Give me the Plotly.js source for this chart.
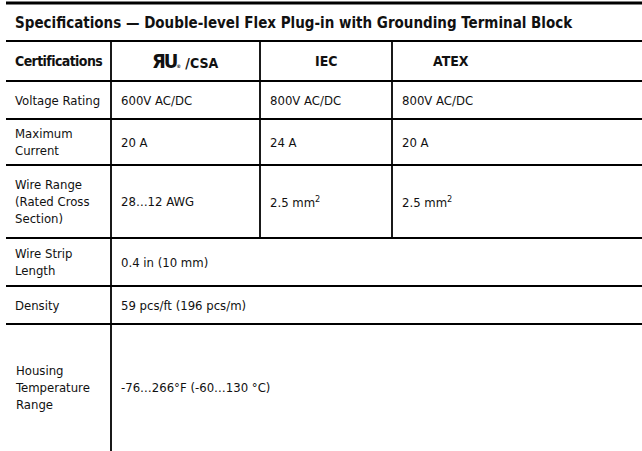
<!DOCTYPE html>
<html>
<head>
<meta charset="utf-8">
<script src="https://cdn.plot.ly/plotly-3.0.1.min.js"></script>
<style>
html,body{margin:0;padding:0;background:#fff;}
#chart{width:642px;height:451px;}
</style>
</head>
<body>
<div id="chart"></div>
<script>
// ---- data (text content of the table) ----
const tableTitle = "Specifications — Double-level Flex Plug-in with Grounding Terminal Block";
const headerLabel = "Certifications";
const certColumns = ["/CSA", "IEC", "ATEX"];
const rowLabels = ["Voltage Rating", "Maximum<br>Current", "Wire Range<br>(Rated Cross<br>Section)", "Wire Strip<br>Length", "Density", "Housing<br>Temperature<br>Range"];
const ulCsaValues = ["600V AC/DC", "20 A", "28…12 AWG", "0.4 in (10 mm)", "59 pcs/ft (196 pcs/m)", "-76…266°F (-60…130 °C)"];
const iecValues = ["800V AC/DC", "24 A", "2.5 mm<sup>2</sup>", null, null, null];
const atexValues = ["800V AC/DC", "20 A", "2.5 mm<sup>2</sup>", null, null, null];

// ---- layout geometry (pixels) ----
const W = 642, H = 451;
const geom = {
  left: 6,
  topRule: 3,
  titleBottom: 41,
  headerBottom: 81,
  rowBottoms: [119, 165, 238, 286, 324, 451],
  colEdges: [111, 260, 392],
  headerColEnds: [260, 392, 510],
  textPad: 8
};
const FONT = "'Liberation Sans Narrow', 'DejaVu Sans Condensed', 'Arial Narrow', sans-serif";

const shapes = [];
const annotations = [];
function hline(y, w) {
  shapes.push({type: 'line', xref: 'x', yref: 'y', x0: geom.left, x1: W, y0: y, y1: y, line: {color: '#000', width: w}});
}
function vline(x, y0, y1) {
  shapes.push({type: 'line', xref: 'x', yref: 'y', x0: x, x1: x, y0: y0, y1: y1, line: {color: '#000', width: 1.8}});
}
function text(t, x, y, opts) {
  annotations.push(Object.assign({xref: 'x', yref: 'y', x: x, y: y, text: t, showarrow: false,
    xanchor: 'left', yanchor: 'middle', align: 'left',
    font: {family: FONT, size: 13, color: '#111'}}, opts || {}));
}

hline(geom.topRule, 3);
hline(geom.titleBottom, 2);
hline(geom.headerBottom, 2);
geom.rowBottoms.slice(0, -1).forEach(y => hline(y, 2));

// title
text('<b>' + tableTitle + '</b>', geom.left + 7, (geom.topRule + geom.titleBottom) / 2 + 1, {font: {family: FONT, size: 15, color: '#111'}});

// header row
const hy = (geom.titleBottom + geom.headerBottom) / 2;
text('<b><span style="letter-spacing:-0.6px">' + headerLabel + '</span></b>', geom.left + 7, hy, {font: {family: FONT, size: 14, color: '#111'}});
const colStarts = geom.colEdges;
certColumns.forEach((c, i) => {
  const cx = (colStarts[i] + geom.headerColEnds[i]) / 2;
  let label = '<b>' + c + '</b>';
  if (i === 0) label = '<b><span style="font-size:20px;letter-spacing:-2px">ЯU</span><span style="font-size:5px">®</span> ' + c + '</b>';
  text(label, cx, hy, {xanchor: 'center', align: 'center', font: {family: FONT, size: 14, color: '#111'}});
});

// body rows
const cols = [ulCsaValues, iecValues, atexValues];
let rowTop = geom.headerBottom;
rowLabels.forEach((lab, r) => {
  const bottom = geom.rowBottoms[r];
  const cy = (rowTop + bottom) / 2;
  text(lab, geom.left + 7, cy);
  cols.forEach((vals, c) => {
    if (vals[r] !== null) text(vals[r], colStarts[c] + geom.textPad, cy);
  });
  rowTop = bottom;
});

// vertical dividers: first column always; others only for rows where cells are separate
vline(geom.colEdges[0], geom.titleBottom, H);
let splitEnd = geom.headerBottom;
rowLabels.forEach((lab, r) => { if (iecValues[r] !== null) splitEnd = geom.rowBottoms[r]; });
vline(geom.colEdges[1], geom.titleBottom, splitEnd);
vline(geom.colEdges[2], geom.titleBottom, splitEnd);

const layout = {
  width: W, height: H,
  margin: {l: 0, r: 0, t: 0, b: 0},
  paper_bgcolor: '#fff', plot_bgcolor: '#fff',
  xaxis: {range: [0, W], visible: false, fixedrange: true},
  yaxis: {range: [H, 0], visible: false, fixedrange: true},
  showlegend: false,
  shapes: shapes,
  annotations: annotations
};
Plotly.newPlot('chart', [{type: 'scatter', x: [], y: [], hoverinfo: 'skip'}], layout, {displayModeBar: false, staticPlot: true});
</script>
</body>
</html>
